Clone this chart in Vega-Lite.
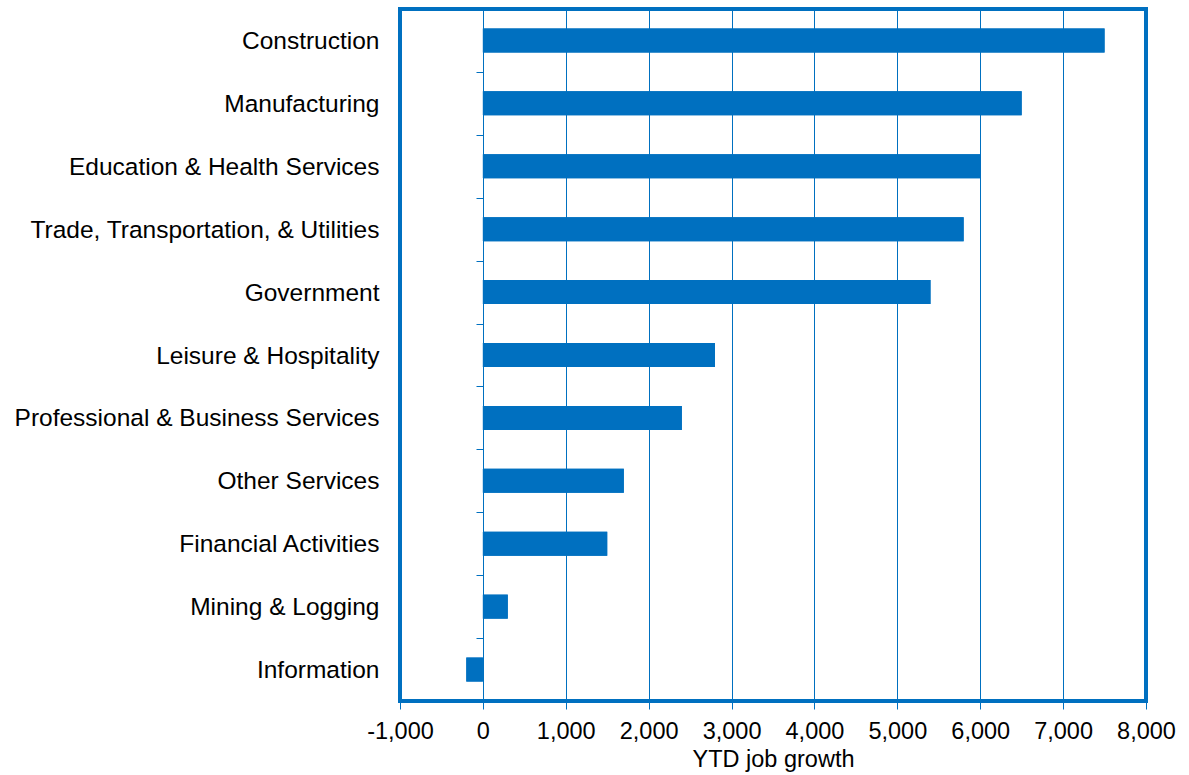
{
  "$schema": "https://vega.github.io/schema/vega-lite/v6.json",
  "autosize": {"type": "none"},
  "padding": {"left": 400, "top": 9, "right": 43, "bottom": 74},
  "width": 746,
  "height": 692,
  "background": "white",
  "config": {
    "font": "Liberation Sans",
    "view": {"stroke": "#0070C0", "strokeWidth": 4},
    "axis": {"labelFont": "Liberation Sans", "titleFont": "Liberation Sans", "labelColor": "black", "titleColor": "black"}
  },
  "data": {
    "values": [
      {"sector": "Construction", "growth": 7500},
      {"sector": "Manufacturing", "growth": 6500},
      {"sector": "Education & Health Services", "growth": 6000},
      {"sector": "Trade, Transportation, & Utilities", "growth": 5800},
      {"sector": "Government", "growth": 5400},
      {"sector": "Leisure & Hospitality", "growth": 2800},
      {"sector": "Professional & Business Services", "growth": 2400},
      {"sector": "Other Services", "growth": 1700},
      {"sector": "Financial Activities", "growth": 1500},
      {"sector": "Mining & Logging", "growth": 300},
      {"sector": "Information", "growth": -200}
    ]
  },
  "layer": [
    {
      "mark": {"type": "bar", "color": "#0070C0", "size": 24},
      "encoding": {
        "y": {
          "field": "sector", "type": "nominal", "sort": null,
          "scale": {"paddingInner": 0, "paddingOuter": 0},
          "axis": {"orient": "left", "title": null, "domain": false, "ticks": false, "tickSize": 0, "grid": false, "labelPadding": 21, "labelFontSize": 24.5, "labelLimit": 500, "labelOffset": 1.5}
        },
        "x": {
          "field": "growth", "type": "quantitative",
          "scale": {"domain": [-1000, 8000], "nice": false, "zero": false},
          "axis": {
            "title": "YTD job growth", "titleFontSize": 23.5, "titleFontWeight": "normal", "titlePadding": 5,
            "values": [-1000, 0, 1000, 2000, 3000, 4000, 5000, 6000, 7000, 8000],
            "format": ",d",
            "labelExpr": "replace(datum.label, '\u2212', '-')",
            "labelFontSize": 23.5, "labelPadding": 10,
            "domain": false, "tickSize": 8, "tickColor": "#0070C0", "tickWidth": 1,
            "grid": true, "gridColor": "#0070C0", "gridWidth": 1, "gridOpacity": 1,
            "labelFlush": false
          }
        }
      }
    },
    {
      "mark": {"type": "bar", "color": "#0070C0", "size": 24},
      "encoding": {
        "y": {
          "field": "sector", "type": "nominal", "sort": null,
          "axis": {"orient": "left", "title": null, "labels": false, "domain": false, "ticks": true, "tickBand": "extent", "tickSize": 7, "tickColor": "#0070C0", "tickWidth": 1, "grid": false, "offset": -83}
        },
        "x": {"field": "growth", "type": "quantitative"}
      }
    }
  ],
  "resolve": {"axis": {"y": "independent"}}
}
